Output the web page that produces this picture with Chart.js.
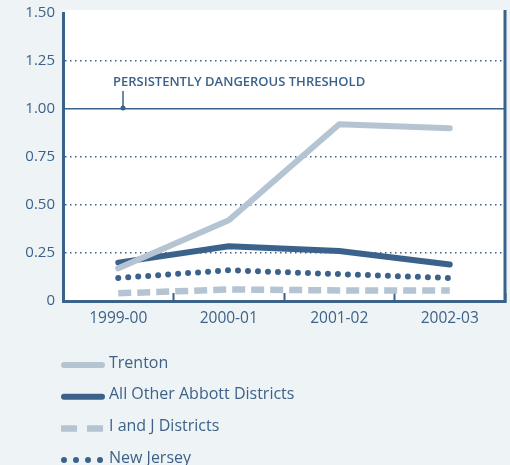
<!DOCTYPE html>
<html lang="en">
<head>
  <meta charset="UTF-8">
  <title>Persistently Dangerous Threshold</title>
  <style>
    html, body { margin: 0; padding: 0; background: #eef4f5; }
    canvas { display: block; }
  </style>
</head>
<body>
  <canvas id="myChart" width="510" height="465"></canvas>

  <script src="https://cdn.jsdelivr.net/npm/chart.js"></script>
  <script>
    // data
    const years = ['1999-00', '2000-01', '2001-02', '2002-03'];
    const trenton = [0.17, 0.42, 0.92, 0.90];
    const otherAbbott = [0.20, 0.285, 0.26, 0.19];
    const iAndJ = [0.04, 0.06, 0.055, 0.055];
    const newJersey = [0.12, 0.16, 0.14, 0.12];
    const yTicks = [0, 0.25, 0.5, 0.75, 1.0, 1.25, 1.5];
    const threshold = 1.0;
    const thresholdLabel = 'PERSISTENTLY DANGEROUS THRESHOLD';

    const dark = '#3b628a';
    const light = '#b4c4d2';
    const textColor = '#3e6189';
    const bg = '#eef4f5';

    Chart.defaults.font.family = '"Open Sans", sans-serif';
    Chart.defaults.font.size = 15;
    Chart.defaults.color = textColor;

    // white plot area, right border, threshold note and the legend
    const framePlugin = {
      id: 'frame',
      beforeDraw(chart) {
        const { ctx, chartArea: a } = chart;
        ctx.save();
        ctx.fillStyle = bg;
        ctx.fillRect(0, 0, chart.width, chart.height);
        ctx.fillStyle = '#ffffff';
        ctx.fillRect(a.left, a.top - 3, a.right - a.left, a.bottom - a.top + 3);
        ctx.restore();
      },
      afterDraw(chart) {
        const { ctx, chartArea: a } = chart;
        const yScale = chart.scales.y;
        ctx.save();

        // right frame line
        ctx.strokeStyle = dark;
        ctx.lineWidth = 3;
        ctx.beginPath();
        ctx.moveTo(a.right, a.top - 3);
        ctx.lineTo(a.right, a.bottom + 1.5);
        ctx.stroke();

        // threshold note
        const ty = yScale.getPixelForValue(threshold);
        ctx.fillStyle = dark;
        ctx.font = '600 13px "Open Sans", sans-serif';
        ctx.textBaseline = 'middle';
        ctx.textAlign = 'left';
        ctx.fillText(thresholdLabel, a.left + 50, ty - 27, 253);
        ctx.lineWidth = 1.5;
        ctx.beginPath();
        ctx.moveTo(a.left + 60, ty - 18);
        ctx.lineTo(a.left + 60, ty - 2);
        ctx.stroke();
        ctx.beginPath();
        ctx.arc(a.left + 60, ty - 1, 2.5, 0, Math.PI * 2);
        ctx.fill();

        // legend
        ctx.font = '16px "Open Sans", sans-serif';
        chart.data.datasets.forEach(function (ds, i) {
          const y = a.bottom + 62 + i * 31.7;
          ctx.strokeStyle = ds.borderColor;
          ctx.lineWidth = ds.borderWidth;
          ctx.lineCap = ds.borderCapStyle;
          ctx.setLineDash(ds.legendDash || []);
          ctx.beginPath();
          ctx.moveTo(ds.legendFrom, y + 2);
          ctx.lineTo(ds.legendTo, y + 2);
          ctx.stroke();
          ctx.setLineDash([]);
          ctx.fillStyle = textColor;
          ctx.fillText(ds.label, 109, y);
        });
        ctx.restore();
      }
    };

    const ctx = document.getElementById('myChart');
    const chart = new Chart(ctx, {
      type: 'line',
      data: {
        labels: years,
        datasets: [
          {
            label: 'Trenton',
            data: trenton,
            borderColor: light,
            borderWidth: 6,
            borderCapStyle: 'round',
            borderJoinStyle: 'round',
            legendFrom: 64, legendTo: 102
          },
          {
            label: 'All Other Abbott Districts',
            data: otherAbbott,
            borderColor: dark,
            borderWidth: 6,
            borderCapStyle: 'round',
            borderJoinStyle: 'round',
            legendFrom: 64, legendTo: 102
          },
          {
            label: 'I and J Districts',
            data: iAndJ,
            borderColor: light,
            borderWidth: 6.5,
            borderCapStyle: 'butt',
            borderDash: [13, 6],
            legendDash: [16, 10],
            legendFrom: 61, legendTo: 103
          },
          {
            label: 'New Jersey',
            data: newJersey,
            borderColor: dark,
            borderWidth: 6,
            borderCapStyle: 'round',
            borderDash: [0, 10],
            legendDash: [0, 12],
            legendFrom: 64, legendTo: 101
          }
        ]
      },
      options: {
        responsive: false,
        animation: false,
        layout: { padding: { top: 13, right: 5, bottom: 129, left: 0 } },
        elements: {
          point: { radius: 0 },
          line: { tension: 0, fill: false }
        },
        plugins: {
          legend: { display: false },
          tooltip: { enabled: false }
        },
        scales: {
          x: {
            offset: true,
            grid: {
              offset: true,
              drawOnChartArea: false,
              drawTicks: true,
              tickLength: -8,
              tickWidth: 2,
              tickColor: dark
            },
            border: { color: dark, width: 3 },
            ticks: { padding: 16, color: textColor, font: { size: 15.5 } },
            afterFit: function (s) {
              s.height = 35;
              s.paddingLeft = 0;
              s.paddingRight = 0;
            }
          },
          y: {
            min: 0,
            max: 1.5,
            afterBuildTicks: function (s) {
              s.ticks = yTicks.map(function (v) { return { value: v }; });
            },
            grid: {
              drawTicks: false,
              lineWidth: 1.5,
              color: function (c) {
                if (c.tick && (c.tick.value === 0 || c.tick.value === 1.5)) return 'rgba(0,0,0,0)';
                return dark;
              }
            },
            border: {
              color: dark,
              width: 3,
              dash: function (c) {
                return (c.tick && c.tick.value === threshold) ? [] : [1.5, 3.5];
              }
            },
            ticks: {
              padding: 8,
              color: textColor,
              callback: function (v) { return v === 0 ? '0' : v.toFixed(2); }
            },
            afterFit: function (s) {
              s.width = 63;
              s.paddingTop = 0;
              s.paddingBottom = 0;
            }
          }
        }
      },
      plugins: [framePlugin]
    });
  </script>
</body>
</html>
